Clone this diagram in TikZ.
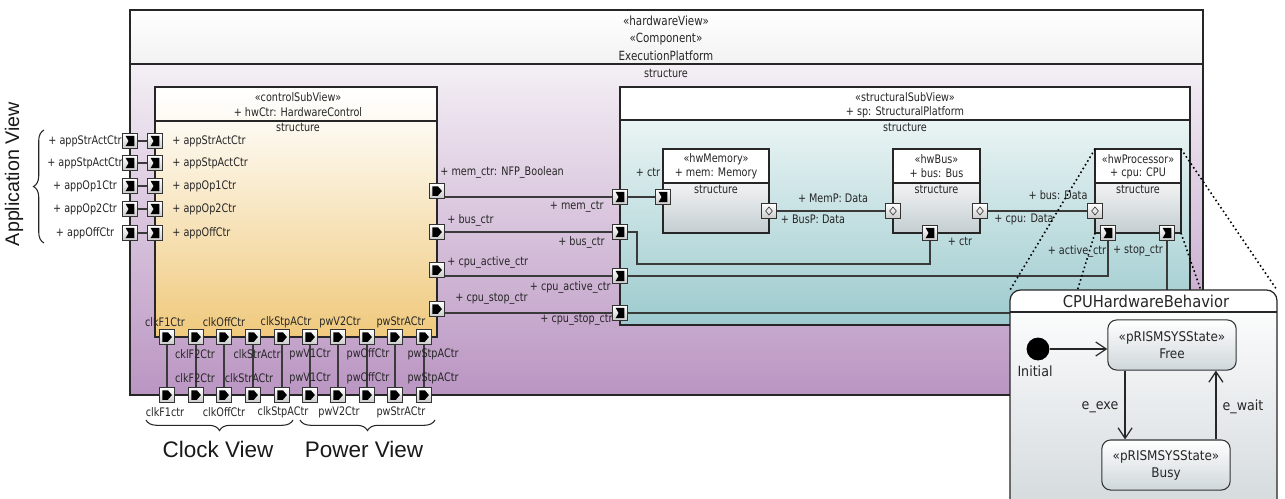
\documentclass[tikz,border=0pt]{standalone}
\usepackage{fontspec}
\newfontfamily\umlf[FakeStretch=0.82]{DejaVu Sans}
\newfontfamily\popf[FakeStretch=0.9]{DejaVu Sans}
\newfontfamily\arialf{Liberation Sans}
\usetikzlibrary{arrows.meta,decorations.pathreplacing,calc}
\definecolor{purTop}{HTML}{F4EFF5}
\definecolor{purBot}{HTML}{BA95C2}
\definecolor{ornTop}{HTML}{FDFAF2}
\definecolor{ornBot}{HTML}{F0C97C}
\definecolor{tealTop}{HTML}{EAF4F4}
\definecolor{tealBot}{HTML}{9CCACE}
\definecolor{greyTop}{HTML}{F2F3F3}
\definecolor{greyBot}{HTML}{C3CDD1}
\definecolor{popBot}{HTML}{D3D9DC}
\definecolor{lineC}{HTML}{3A3A3A}
\begin{document}
\begin{tikzpicture}[x=0.02cm,y=-0.02cm,
 boxline/.style={draw=black!85, line width=0.6pt},
 conn/.style={draw=lineC, line width=0.6pt},
 lbl/.style={font=\umlf\fontsize{6.7}{8}\selectfont, text=black!85, inner sep=0pt},
 ttl/.style={font=\umlf\fontsize{7.2}{8}\selectfont, text=black!85, inner sep=0pt},
 bigtxt/.style={font=\arialf\fontsize{12.8}{14}\selectfont, text=black!90, inner sep=0pt},
 plbl/.style={font=\popf\fontsize{8}{9.7}\selectfont, text=black!85, inner sep=0pt},
 portbox/.style={draw=black!80, line width=0.5pt, minimum size=8.2pt, inner sep=0pt, top color=white, bottom color=black!20},
 portin/.style={portbox, path picture={\fill[black] ([shift={(-2.5pt,-2.9pt)}]path picture bounding box.center) -- ++(5pt,0pt) -- ++(0pt,5.8pt) -- ++(-5pt,0pt) -- ++(1.7pt,-2.9pt) -- cycle;}},
 portout/.style={portbox, path picture={\fill[black] ([shift={(-2.6pt,-2.7pt)}]path picture bounding box.center) -- ++(3.1pt,0pt) -- ++(2.3pt,2.7pt) -- ++(-2.3pt,2.7pt) -- ++(-3.1pt,0pt) -- cycle;}},
 portdia/.style={portbox, path picture={\draw[black!80,line width=0.35pt] ([shift={(0pt,-2.3pt)}]path picture bounding box.center) -- ++(1.9pt,2.3pt) -- ++(-1.9pt,2.3pt) -- ++(-1.9pt,-2.3pt) -- cycle;}},
 statebox/.style={draw=black!80, line width=0.6pt, rounded corners=5pt, top color=white, bottom color=greyBot!80, font=\popf\fontsize{7.6}{9.7}\selectfont, align=center, text=black!85, minimum width=73pt, minimum height=28.5pt, inner sep=1pt},
 arr/.style={draw=black!85, line width=0.7pt, -{Straight Barb[length=6pt,width=8pt]}},
 dots/.style={draw=black, line width=0.9pt, dash pattern=on 0.9pt off 1.6pt},
 brc/.style={draw=black!85, line width=0.6pt, decorate, decoration={brace, amplitude=6pt}}
]
\useasboundingbox (0,0) rectangle (1285,498);
\clip (0,0) rectangle (1285,498);
\fill[white] (0,0) rectangle (1285,498);

% ---------- ExecutionPlatform ----------
\shade[top color=white, bottom color=black!5] (130,10) rectangle (1203,64);
\shade[top color=purTop, bottom color=purBot] (130,64) rectangle (1203,395);
\draw[boxline] (130,10) rectangle (1203,395);
\draw[boxline] (130,64) -- (1203,64);
\node[ttl] (t1a) at (666,21) {«hardwareView»};
\node[ttl] (t1b) at (666,39) {«Component»};
\node[ttl] (t1c) at (666,56) {ExecutionPlatform};
\node[lbl] (t1d) at (666,73) {structure};

% ---------- HardwareControl ----------
\shade[top color=white, bottom color=ornTop] (155,87) rectangle (437,121);
\shade[top color=ornTop, bottom color=ornBot] (155,121) rectangle (437,337);
\draw[boxline] (155,87) rectangle (437,337);
\draw[boxline] (155,121) -- (437,121);
\node[lbl] (c1a) at (298,97) {«controlSubView»};
\node[lbl] (c1b) at (298,112) {+ hwCtr: HardwareControl};
\node[lbl] (c1c) at (298,127) {structure};

% ---------- StructuralPlatform ----------
\fill[white] (620,87) rectangle (1190,120);
\shade[top color=tealTop, bottom color=tealBot] (620,120) rectangle (1190,325);
\draw[boxline] (620,87) rectangle (1190,325);
\draw[boxline] (620,120) -- (1190,120);
\node[lbl] (s1a) at (905,97) {«structuralSubView»};
\node[lbl] (s1b) at (905,112) {+ sp: StructuralPlatform};
\node[lbl] (s1c) at (905,127) {structure};

% ---------- inner parts ----------
\foreach \xa/\xb/\st/\nm in {663/769/hwMemory/mem: Memory, 893/980/hwBus/bus: Bus, 1095/1181/hwProcessor/cpu: CPU}{
  \fill[white] (\xa,149) rectangle (\xb,183);
  \shade[top color=greyTop, bottom color=greyBot] (\xa,183) rectangle (\xb,233);
  \draw[boxline] (\xa,149) rectangle (\xb,233);
  \draw[boxline] (\xa,183) -- (\xb,183);
  \node[lbl] at ({(\xa+\xb)/2},159) {«\st»};
  \node[lbl] at ({(\xa+\xb)/2},173) {+ \nm};
  \node[lbl] at ({(\xa+\xb)/2},189) {structure};
}

% ---------- application ports ----------
\foreach \y/\t [count=\i] in {141/appStrActCtr,163/appStpActCtr,186/appOp1Ctr,209/appOp2Ctr,233/appOffCtr}{
  \node[portin] (ao\i) at (130,\y) {};
  \node[portin] (ai\i) at (155,\y) {};
  \draw[conn] (ao\i) -- (ai\i);
  \node[lbl] (aol\i) at (85,\y) {+ \t};
  \node[lbl,anchor=west] (ail\i) at (172,\y) {+ \t};
}

% ---------- clock / power ports ----------
\foreach \x [count=\i] in {167,196,224,253,282,310,338,367,395,424}{
  \node[portout] (tp\i) at (\x,337) {};
  \node[portout] (bp\i) at (\x,395) {};
  \draw[conn] (tp\i) -- (bp\i);
}
\foreach \x/\t [count=\i] in {165/clkF1Ctr,224/clkOffCtr,286/clkStpACtr,340/pwV2Ctr,401/pwStrACtr}{
  \node[lbl] (ttl\i) at (\x,322) {\t};
}
\foreach \x/\t [count=\i] in {195/cklF2Ctr,257/clkStrActr,310/pwV1Ctr,368/pwOffCtr,433/pwStpACtr}{
  \node[lbl] (ml\i) at (\x,354) {\t};
}
\foreach \x/\t [count=\i] in {195/clkF2Ctr,249/clkStrACtr,310/pwV1Ctr,368/pwOffCtr,433/pwStpACtr}{
  \node[lbl] (nl\i) at (\x,378) {\t};
}
\foreach \x/\t [count=\i] in {165/clkF1ctr,224/clkOffCtr,283/clkStpACtr,339/pwV2Ctr,401/pwStrACtr}{
  \node[lbl] (bl\i) at (\x,412) {\t};
}

% ---------- control -> structural ports ----------
\node[portout] (cm) at (437,191) {};
\node[portout] (cb) at (437,232) {};
\node[portout] (ca) at (437,270) {};
\node[portout] (cs) at (437,309) {};
\node[portin] (sm) at (620,197) {};
\node[portin] (sb) at (620,232) {};
\node[portin] (sa) at (620,276) {};
\node[portin] (ss) at (620,313) {};
\draw[conn] (cm.east |- sm.west) -- (sm.west);
\draw[conn] (cb) -- (sb);
\draw[conn] (ca.east |- sa.west) -- (sa.west);
\draw[conn] (cs.east |- ss.west) -- (ss.west);

\node[lbl,anchor=west] (lcm) at (440,172) {+ mem\_ctr: NFP\_Boolean};
\node[lbl,anchor=east] (lsm) at (604,207) {+ mem\_ctr};
\node[lbl,anchor=west] (lcb) at (447,220) {+ bus\_ctr};
\node[lbl,anchor=east] (lsb) at (605,242) {+ bus\_ctr};
\node[lbl,anchor=west] (lca) at (447,262) {+ cpu\_active\_ctr};
\node[lbl,anchor=east] (lsa) at (611,287) {+ cpu\_active\_ctr};
\node[lbl,anchor=west] (lcs) at (455,299) {+ cpu\_stop\_ctr};
\node[lbl,anchor=east] (lss) at (613,320) {+ cpu\_stop\_ctr};

% ---------- inner ports ----------
\node[portin] (mc) at (663,197) {};
\node[portdia] (mbp) at (769,211) {};
\node[portdia] (bl) at (893,211) {};
\node[portdia] (br) at (980,211) {};
\node[portin] (bc) at (930,233) {};
\node[portdia] (pd) at (1095,211) {};
\node[portin] (pa) at (1108,233) {};
\node[portin] (ps) at (1167,233) {};
\coordinate (k1) at (637,264);

\draw[conn] (sm) -- (mc);
\draw[conn] (sb.east) -| (k1) -| (bc.south);
\draw[conn] (sa.east) -| (pa.south);
\draw[conn] (ss.east) -| (ps.south);
\draw[conn] (mbp) -- (bl);
\draw[conn] (br) -- (pd);

\node[lbl] (lmc) at (648,172) {+ ctr};
\node[lbl] (lmp) at (833,198) {+ MemP: Data};
\node[lbl] (lbp) at (813,219) {+ BusP: Data};
\node[lbl] (lbc) at (960,241) {+ ctr};
\node[lbl] (lcd) at (1024,219) {+ cpu: Data};
\node[lbl] (lbd) at (1058,195) {+ bus: Data};
\node[lbl] (lpa) at (1077,251) {+ active\_ctr};
\node[lbl] (lps) at (1138,251) {+ stop\_ctr};

% ---------- view annotations ----------
\node[bigtxt, rotate=90, font=\arialf\fontsize{11.2}{13}\selectfont] (appv) at (14,174) {Application View};
\draw[brc] (44,243) -- (44,130);
\draw[brc] (293,420) -- (146,420);
\draw[brc] (435,420) -- (300,420);
\node[bigtxt] (clkv) at (218,449) {Clock View};
\node[bigtxt] (pwv) at (364,449) {Power View};

% ---------- projection lines ----------
\coordinate (pTL) at (1095,149);
\coordinate (pTR) at (1181,149);
\coordinate (pBL) at (1095,233);
\coordinate (pBR) at (1181,233);
\coordinate (popTL) at (1010,290);
\coordinate (popTR) at (1277,290);
\coordinate (popBL) at (1010,510);
\coordinate (popBR) at (1277,510);
\draw[dots] (pTL) -- (popTL);
\draw[dots] (pTR) -- (popTR);
\draw[dots] (pBL) -- (popBL);
\draw[dots] (pBR) -- (popBR);

% ---------- CPUHardwareBehavior ----------
\shade[top color=white, bottom color=popBot, rounded corners=6pt] (1010,290) rectangle (1277,515);
\begin{scope}
  \clip[rounded corners=6pt] (1010,290) rectangle (1277,515);
  \fill[white] (1010,290) rectangle (1277,312);
\end{scope}
\draw[black!85, line width=0.7pt, rounded corners=6pt] (1010,290) rectangle (1277,515);
\draw[black!85, line width=0.6pt] (1010,312) -- (1277,312);
\node[font=\popf\fontsize{9.3}{11}\selectfont, text=black!85, inner sep=0pt] (popt) at (1146,301) {CPUHardwareBehavior};

\node[circle, fill=black, minimum size=13pt, inner sep=0pt] (init) at (1038,349) {};
\node[plbl] (initl) at (1035,371) {Initial};
\node[statebox] (free) at (1172,345) {«pRISMSYSState»\\Free};
\node[statebox] (busy) at (1166,465) {«pRISMSYSState»\\Busy};
\draw[arr] (init.east) -- (init.east -| free.west);
\draw[arr] ([xshift=-26.7pt]free.south) -- ([xshift=-26.7pt]free.south |- busy.north);
\draw[arr] ([xshift=25pt]free.south |- busy.north) -- ([xshift=25pt]free.south);
\node[plbl] (lexe) at (1100,407) {e\_exe};
\node[plbl] (lwait) at (1243,407) {e\_wait};
\end{tikzpicture}
\end{document}
